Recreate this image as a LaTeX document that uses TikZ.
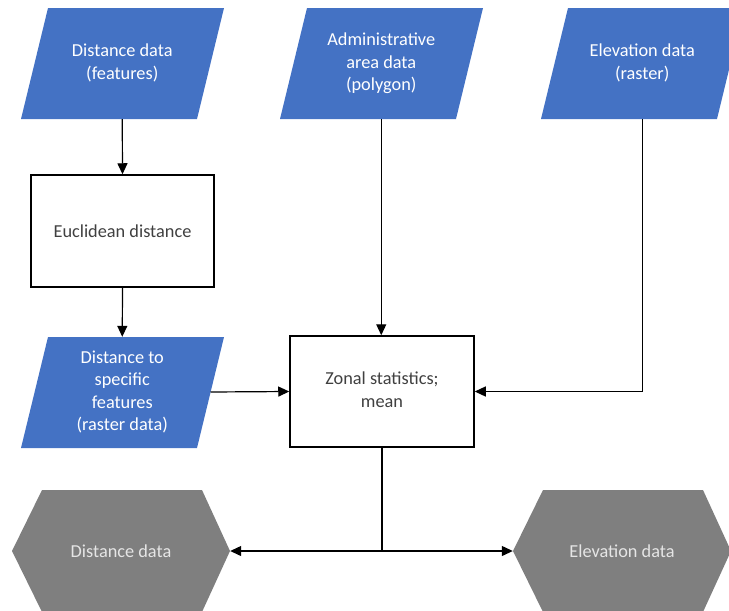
\documentclass[tikz,border=0pt]{standalone}
\usepackage{fontspec}
\setmainfont{Carlito}
\usetikzlibrary{arrows.meta,backgrounds,calc}
\definecolor{oblue}{HTML}{4472C4}
\definecolor{ogray}{HTML}{7F7F7F}
\definecolor{otext}{HTML}{404040}
\newcommand\dataShape[2]{\fill[oblue] (#1+27,#2) -- (#1+203,#2) -- (#1+176,#2+111) -- (#1,#2+111) -- cycle;}
\newcommand\hexShape[2]{\fill[ogray] (#1,#2) -- (#1+30,#2-61) -- (#1+190,#2-61) -- (#1+218,#2) -- (#1+190,#2+61) -- (#1+30,#2+61) -- cycle;}
\begin{document}
\begin{tikzpicture}[x=1pt,y=-1pt,
  every node/.style={font=\fontsize{18.3}{22.5}\selectfont, align=center, inner sep=0pt},
  databox/.style={minimum width=150pt, minimum height=111pt, text=white},
  procbox/.style={draw=black, line width=1.5pt, fill=white, text=otext, minimum width=183pt, minimum height=111pt},
  outbox/.style={minimum width=218pt, minimum height=122pt, text=white!90!black},
  conn/.style={line width=1.2pt, -{Triangle[length=11pt,width=10pt]}},
  plain/.style={line width=1.2pt}]
\useasboundingbox (0,0) rectangle (729,611);
\clip (0,0) rectangle (729,611);

\node[databox] (dd) at (122.25,63.5) {\raisebox{-2pt}{\begin{tabular}{@{}c@{}}Distance data\\(features)\end{tabular}}};
\node[databox] (ad) at (381.25,63.5) {\raisebox{-2.5pt}{\begin{tabular}{@{}c@{}}Administrative\\area data\\(polygon)\end{tabular}}};
\node[databox] (ed) at (642.25,63.5) {\raisebox{-2pt}{\begin{tabular}{@{}c@{}}Elevation data\\(raster)\end{tabular}}};
\node[procbox, minimum height=112pt] (eu) at (122.5,231) {Euclidean distance};
\node[databox] (dt) at (122.25,392.5) {\raisebox{-2pt}{\begin{tabular}{@{}c@{}}Distance to\\specific\\features\\(raster data)\end{tabular}}};
\node[procbox, minimum width=184pt] (zs) at (382,391.5) {\raisebox{-1.5pt}{\begin{tabular}{@{}c@{}}Zonal statistics;\\mean\end{tabular}}};
\node[outbox] (od) at (121,551) {Distance data};
\node[outbox] (oe) at (622,551) {Elevation data};

\begin{scope}[on background layer]
\dataShape{21}{8}
\dataShape{280}{8}
\dataShape{541}{8}
\dataShape{21}{337}
\hexShape{12}{551}
\hexShape{513}{551}
\end{scope}

\coordinate (dtr) at (210.5,392);
\coordinate (j) at (zs.south |- od.east);

\draw[conn] (dd.south) -- (eu.north);
\draw[conn] (eu.south) -- (dt.north);
\draw[conn] (ad.south) -- (ad.south |- zs.north);
\draw[conn] (ed.south) |- (zs.east);
\draw[conn] (dtr) -- (zs.west);
\draw[plain] (zs.south) -- (j);
\draw[conn] (j) -- (od.east);
\draw[conn] (j) -- (oe.west);
\end{tikzpicture}
\end{document}
